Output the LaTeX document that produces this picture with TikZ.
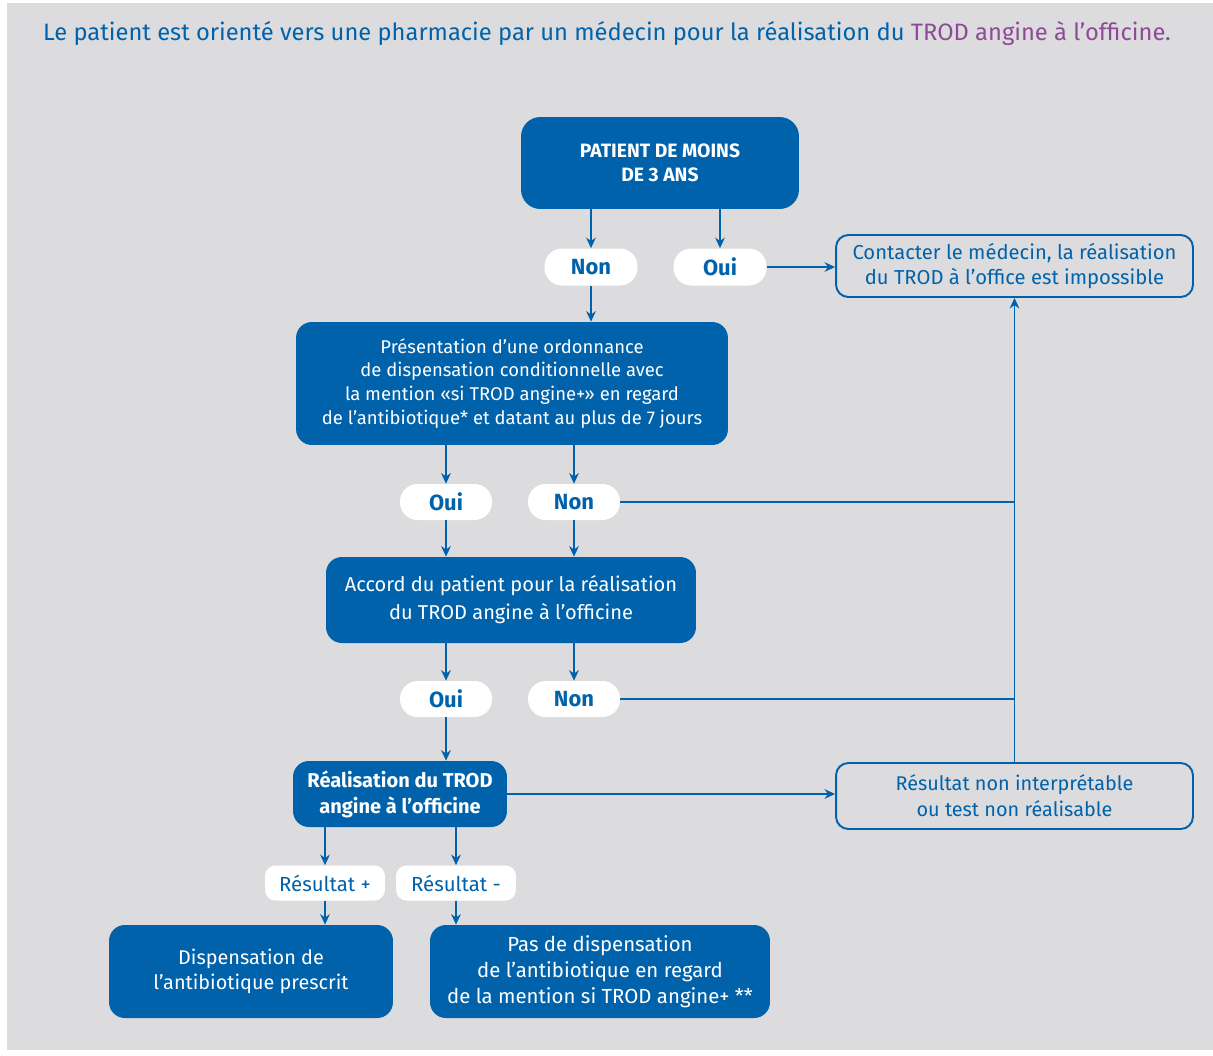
\documentclass[tikz,border=0pt]{standalone}
\usepackage{fontspec}
\setmainfont{Fira Sans}
\usepackage{xcolor}
\usetikzlibrary{arrows.meta,calc,positioning}

\definecolor{trodblau}{RGB}{0,98,170}
\definecolor{trodgrau}{RGB}{220,220,222}
\definecolor{trodlila}{RGB}{142,74,150}

\tikzset{
    kasten/.style={fill=trodblau, text=white, rounded corners=9pt, inner sep=0pt, align=center, font=\fontsize{10.5}{13.6}\selectfont},
    rahmen/.style={draw=trodblau, line width=1.1pt, text=trodblau, rounded corners=7pt, inner sep=0pt, align=center, font=\fontsize{11.5}{14.7}\selectfont},
    pille/.style={fill=white, text=trodblau, rounded corners=10pt, inner sep=0pt, minimum width=1.84cm, minimum height=0.72cm, font=\bfseries\fontsize{12.5}{14}\selectfont},
    ergebnis/.style={fill=white, text=trodblau, rounded corners=6pt, inner sep=0pt, minimum width=2.4cm, minimum height=0.7cm, font=\fontsize{11.6}{14}\selectfont},
    pfeil/.style={draw=trodblau, line width=0.85pt, -{Stealth[length=6pt,width=5.5pt]}},
    linie/.style={draw=trodblau, line width=0.85pt}
}

\begin{document}
\begin{tikzpicture}[x=0.02cm, y=-0.02cm]
        % Umgebung
        \useasboundingbox (0, 0) rectangle (1213, 1055);
        \fill[trodgrau] (7, 3) rectangle (1213, 1050);

        % Überschrift
        \node[font=\fontsize{13.5}{16}\selectfont] (titel) at (607, 34) {\textcolor{trodblau}{Le patient est orienté vers une pharmacie par un médecin pour la réalisation du }\textcolor{trodlila}{TROD angine à l’officine.}};

        % Kästchen
        \node[kasten, minimum width=5.56cm, minimum height=1.84cm, rounded corners=11pt, font=\bfseries\fontsize{11}{13.6}\selectfont] (patient) at (660, 163) {PATIENT DE MOINS\\DE 3 ANS};
        \node[kasten, minimum width=8.64cm, minimum height=2.46cm] (ordonnance) at (512, 383.5) {Présentation d’une ordonnance\\de dispensation conditionnelle avec\\la mention «si TROD angine+» en regard\\de l’antibiotique* et datant au plus de 7 jours};
        \node[kasten, minimum width=7.4cm, minimum height=1.72cm, font=\fontsize{11.4}{15.9}\selectfont] (accord) at (511, 600) {Accord du patient pour la réalisation\\du TROD angine à l’officine};
        \node[kasten, minimum width=4.28cm, minimum height=1.32cm, font=\bfseries\fontsize{11.4}{14.7}\selectfont] (realisation) at (400, 794) {Réalisation du TROD\\angine à l’officine};
        \node[kasten, minimum width=5.68cm, minimum height=1.86cm, font=\fontsize{11.3}{14.2}\selectfont] (dispensation) at (251, 971.5) {Dispensation de\\l’antibiotique prescrit};
        \node[kasten, minimum width=6.8cm, minimum height=1.86cm, font=\fontsize{11.6}{14.7}\selectfont] (pasdispensation) at (600, 971.5) {Pas de dispensation\\de l’antibiotique en regard\\de la mention si TROD angine+ **};

        % Umrandungen
        \node[rahmen, minimum width=7.14cm, minimum height=1.24cm] (contacter) at (1014.5, 266) {Contacter le médecin, la réalisation\\du TROD à l’office est impossible};
        \node[rahmen, minimum width=7.14cm, minimum height=1.32cm, font=\fontsize{11.3}{14.7}\selectfont] (nonint) at (1014.5, 796) {Résultat non interprétable\\ou test non réalisable};

        % Antworten
        \node[pille, minimum width=1.86cm, minimum height=0.74cm] (non1) at (591, 267) {Non};
        \node[pille, minimum width=1.86cm, minimum height=0.74cm] (oui1) at (720, 267) {Oui};
        \node[pille] (oui2) at (446, 502) {Oui};
        \node[pille] (non2) at (574, 502) {Non};
        \node[pille] (oui3) at (446, 699) {Oui};
        \node[pille] (non3) at (574, 699) {Non};
        \node[ergebnis] (resplus) at (325, 883) {Résultat +};
        \node[ergebnis] (resmoins) at (456, 883) {Résultat -};

        % Pfeile
        \draw[pfeil] (patient.south -| non1.north) -- (non1.north);
        \draw[pfeil] (patient.south -| oui1.north) -- (oui1.north);
        \draw[pfeil] (non1.south) -- (non1.south |- ordonnance.north);
        \draw[pfeil] (oui1.east) -- (oui1.east -| contacter.west);
        \draw[pfeil] (ordonnance.south -| oui2.north) -- (oui2.north);
        \draw[pfeil] (ordonnance.south -| non2.north) -- (non2.north);
        \draw[pfeil] (oui2.south) -- (oui2.south |- accord.north);
        \draw[pfeil] (non2.south) -- (non2.south |- accord.north);
        \draw[pfeil] (accord.south -| oui3.north) -- (oui3.north);
        \draw[pfeil] (accord.south -| non3.north) -- (non3.north);
        \draw[pfeil] (oui3.south) -- (oui3.south |- realisation.north);
        \draw[pfeil] (realisation.east) -- (realisation.east -| nonint.west);
        \draw[pfeil] (realisation.south -| resplus.north) -- (resplus.north);
        \draw[pfeil] (realisation.south -| resmoins.north) -- (resmoins.north);
        \draw[pfeil] (resplus.south) -- (resplus.south |- dispensation.north);
        \draw[pfeil] (resmoins.south) -- (resmoins.south |- pasdispensation.north);
        \draw[pfeil] (nonint.north) -- (contacter.south);
        \draw[linie] (non2.east) -- (non2.east -| nonint.north);
        \draw[linie] (non3.east) -- (non3.east -| nonint.north);

    \end{tikzpicture}
\end{document}
